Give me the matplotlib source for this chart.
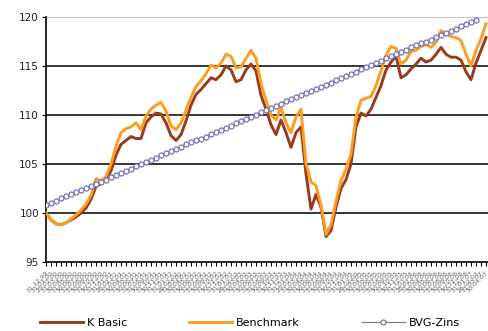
import numpy as np
import pandas as pd
import matplotlib
matplotlib.use('Agg')
import matplotlib.pyplot as plt

# monthly index values (start = 100)
k_basic = [100.0, 99.3, 98.9, 98.8, 99.0, 99.3, 99.6, 100.0, 100.5, 101.4,
           102.7, 103.0, 103.4, 104.3, 105.9, 107.0, 107.4, 107.8, 107.6, 107.6,
           109.2, 109.8, 110.2, 110.1, 109.2, 107.9, 107.4, 108.0, 109.4, 111.0,
           112.1, 112.6, 113.2, 113.8, 113.6, 114.1, 115.0, 114.6, 113.4, 113.6,
           114.6, 115.2, 114.5, 112.0, 110.6, 109.0, 108.0, 109.5, 108.2, 106.7,
           108.2, 108.8, 104.0, 100.4, 101.9, 100.6, 97.6, 98.2, 100.6, 102.5,
           103.4, 105.0, 108.8, 110.2, 109.9, 110.6, 111.8, 113.0, 114.6, 115.4,
           116.0, 113.8, 114.1, 114.7, 115.2, 115.8, 115.4, 115.6, 116.2, 116.9,
           116.2, 115.9, 115.9, 115.6, 114.4, 113.6, 115.3, 116.6, 117.9]

benchmark = [100.0, 99.3, 98.9, 98.8, 99.0, 99.4, 99.8, 100.3, 100.9, 101.8,
             103.5, 103.3, 103.7, 105.0, 106.8, 108.2, 108.6, 108.8, 109.2, 108.5,
             109.9, 110.6, 111.0, 111.3, 110.4, 108.9, 108.5, 109.2, 110.5, 111.8,
             112.9, 113.5, 114.2, 115.1, 114.8, 115.3, 116.2, 116.0, 114.8, 114.9,
             115.8, 116.6, 115.8, 113.2, 111.5, 110.0, 109.5, 110.8, 109.2, 108.2,
             109.8, 110.6, 105.0, 103.2, 102.8, 100.8, 97.8, 98.8, 101.2, 103.3,
             104.5, 106.0, 109.8, 111.5, 111.7, 111.9, 113.0, 114.5, 116.1, 117.0,
             116.8, 115.2, 115.6, 116.5, 116.6, 117.0, 117.2, 116.9, 117.4, 118.6,
             118.3, 118.0, 117.9, 117.6, 116.2, 115.0, 116.6, 117.8, 119.3]

bvg_zins = [100.8, 101.0, 101.2, 101.5, 101.7, 101.9, 102.1, 102.3, 102.6, 102.8,
            103.0, 103.2, 103.4, 103.7, 103.9, 104.1, 104.3, 104.5, 104.8, 105.0,
            105.2, 105.4, 105.6, 105.9, 106.1, 106.3, 106.5, 106.7, 107.0, 107.2,
            107.4, 107.6, 107.8, 108.1, 108.3, 108.5, 108.7, 108.9, 109.2, 109.4,
            109.6, 109.8, 110.0, 110.3, 110.5, 110.7, 110.9, 111.1, 111.4, 111.6,
            111.8, 112.0, 112.2, 112.5, 112.7, 112.9, 113.1, 113.3, 113.6, 113.8,
            114.0, 114.2, 114.4, 114.7, 114.9, 115.1, 115.3, 115.5, 115.8, 116.0,
            116.2, 116.4, 116.6, 116.9, 117.1, 117.3, 117.5, 117.7, 118.0, 118.2,
            118.4, 118.6, 118.8, 119.1, 119.3, 119.5, 119.7, np.nan, np.nan]

dates = pd.date_range('1999-12-31', periods=len(k_basic), freq='ME')
date_labels = dates.strftime('%d.%m.%y')

y_ticks = [95, 100, 105, 110, 115, 120]

x = np.arange(len(k_basic))

fig = plt.figure(figsize=(4.88, 3.31), dpi=100)
ax = fig.add_axes([46 / 488, 1 - 262 / 331, 1 - 46 / 488, (262 - 17) / 331])

ax.plot(x, k_basic, color='#993a1c', lw=2.1, label='K Basic', zorder=3)
ax.plot(x, benchmark, color='#fb9d1e', lw=2.1, label='Benchmark', zorder=4)
ax.plot(x, bvg_zins, color='#7474b4', lw=0.8, marker='o', ms=3.6,
        mfc='white', mec='#7474b4', mew=0.9, label='BVG-Zins', zorder=5)

ax.set_ylim(95, 120)
ax.set_xlim(0, 88.4)
ax.set_yticks(y_ticks)
ax.set_yticklabels([str(v) for v in y_ticks], fontsize=7.5, color='#222222')
for v in y_ticks[1:-1]:
    ax.axhline(v, color='black', lw=1.1, zorder=1)
ax.axhline(120, color='#b0b0b0', lw=1.1, zorder=1)

ax.set_xticks(x)
ax.set_xticklabels(date_labels, rotation=45, ha='right', fontsize=4.6,
                   color='#666666', rotation_mode='anchor')
ax.tick_params(axis='x', length=3, width=0.8, pad=3)
ax.tick_params(axis='y', length=3, width=0.8, pad=2)

for s in ['top', 'right']:
    ax.spines[s].set_visible(False)
ax.spines['left'].set_linewidth(1.2)
ax.spines['bottom'].set_linewidth(1.2)

fig.legend(loc='center left', bbox_to_anchor=(40 / 488, 1 - 323 / 331),
           ncol=3, frameon=False, fontsize=8, handlelength=3.9,
           handletextpad=0.3, columnspacing=5.6, borderpad=0, borderaxespad=0)

fig.savefig('out.png', dpi=100)
